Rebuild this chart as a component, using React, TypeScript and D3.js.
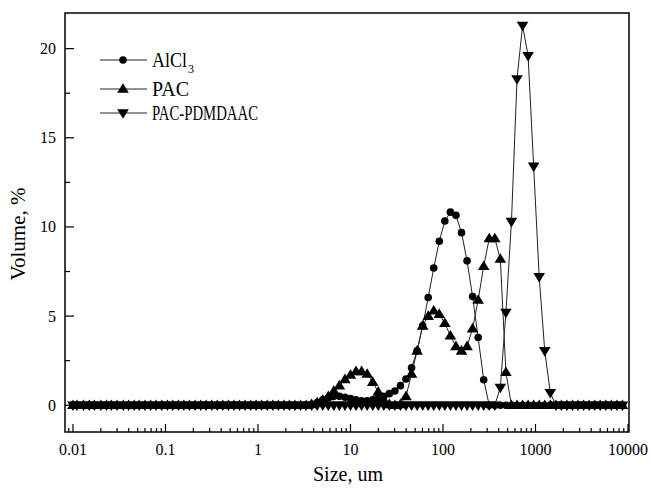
import React from "react";
import * as d3 from "d3";

// Particle size bins (um), as reported by the instrument
const SIZES = [
  0.010, 0.011, 0.013, 0.015, 0.017, 0.020, 0.023, 0.026, 0.030, 0.035,
  0.040, 0.046, 0.052, 0.060, 0.069, 0.079, 0.091, 0.105, 0.120, 0.138,
  0.158, 0.182, 0.209, 0.240, 0.275, 0.316, 0.363, 0.417, 0.479, 0.550,
  0.631, 0.724, 0.832, 0.955, 1.096, 1.259, 1.445, 1.660, 1.905, 2.188,
  2.512, 2.884, 3.311, 3.802, 4.365, 5.012, 5.754, 6.607, 7.586, 8.710,
  10.00, 11.48, 13.18, 15.14, 17.38, 19.95, 22.91, 26.30, 30.20, 34.67,
  39.81, 45.71, 52.48, 60.26, 69.18, 79.43, 91.20, 104.7, 120.2, 138.0,
  158.5, 182.0, 208.9, 239.9, 275.4, 316.2, 363.1, 416.9, 478.6, 549.5,
  631.0, 724.4, 831.8, 955.0, 1096, 1259, 1445, 1660, 1905, 2188,
  2512, 2884, 3311, 3802, 4365, 5012, 5754, 6607, 7586, 8710,
];

const ALCL3 = [
  0, 0, 0, 0, 0, 0, 0, 0, 0, 0,
  0, 0, 0, 0, 0, 0, 0, 0, 0, 0,
  0, 0, 0, 0, 0, 0, 0, 0, 0, 0,
  0, 0, 0, 0, 0, 0, 0, 0, 0, 0,
  0, 0, 0, 0.05, 0.15, 0.3, 0.42, 0.5, 0.5, 0.45,
  0.38, 0.3, 0.25, 0.25, 0.3, 0.4, 0.5, 0.65, 0.8, 1.1,
  1.47, 2.1, 3.05, 4.45, 6.04, 7.7, 9.2, 10.33, 10.83, 10.65,
  9.68, 8.1, 6.1, 3.8, 1.43, 0, 0, 0, 0, 0,
  0, 0, 0, 0, 0, 0, 0, 0, 0, 0,
  0, 0, 0, 0, 0, 0, 0, 0, 0, 0,
];

const PAC = [
  0, 0, 0, 0, 0, 0, 0, 0, 0, 0,
  0, 0, 0, 0, 0, 0, 0, 0, 0, 0,
  0, 0, 0, 0, 0, 0, 0, 0, 0, 0,
  0, 0, 0, 0, 0, 0, 0, 0, 0, 0,
  0, 0, 0, 0.05, 0.15, 0.3, 0.5, 0.8, 1.1, 1.45,
  1.7, 1.9, 1.9, 1.75, 1.3, 0.75, 0.3, 0.05, 0, 0.05,
  0.5, 1.75, 3.05, 4.45, 5.0, 5.3, 5.1, 4.6, 3.9, 3.3,
  3.05, 3.3, 4.3, 5.9, 7.8, 9.35, 9.35, 8.2, 1.85, 0,
  0, 0, 0, 0, 0, 0, 0, 0, 0, 0,
  0, 0, 0, 0, 0, 0, 0, 0, 0, 0,
];

const PAC_PDMDAAC = [
  0, 0, 0, 0, 0, 0, 0, 0, 0, 0,
  0, 0, 0, 0, 0, 0, 0, 0, 0, 0,
  0, 0, 0, 0, 0, 0, 0, 0, 0, 0,
  0, 0, 0, 0, 0, 0, 0, 0, 0, 0,
  0, 0, 0, 0, 0, 0, 0, 0, 0, 0,
  0, 0, 0, 0, 0, 0, 0, 0, 0, 0,
  0, 0, 0, 0, 0, 0, 0, 0, 0, 0,
  0, 0, 0, 0, 0, 0, 0, 1.0, 5.2, 10.3,
  18.3, 21.3, 19.6, 13.4, 7.2, 3.05, 0.7, 0, 0, 0,
  0, 0, 0, 0, 0, 0, 0, 0, 0, 0,
];

const X_MAJOR = [0.01, 0.1, 1, 10, 100, 1000, 10000];
const X_LABELS = ["0.01", "0.1", "1", "10", "100", "1000", "10000"];
const Y_MAJOR = [0, 5, 10, 15, 20];
const Y_MINOR = [2.5, 7.5, 12.5, 17.5];

const SERIES = [
  { name: "AlCl", sub: "3", values: ALCL3, marker: "circle" },
  { name: "PAC", sub: "", values: PAC, marker: "up" },
  { name: "PAC-PDMDAAC", sub: "", values: PAC_PDMDAAC, marker: "down" },
];

const W = 651, H = 489;
const L = 65, R = 629, T = 13, B = 432;
const FONT = "'Liberation Serif', 'Times New Roman', serif";

function Marker({ type, x, y }: { type: string; x: number; y: number }) {
  if (type === "circle") return <circle cx={x} cy={y} r={3.8} fill="#000" />;
  if (type === "up")
    return <path d={`M${x},${y - 5.8}L${x - 5.8},${y + 3.8}L${x + 5.8},${y + 3.8}Z`} fill="#000" />;
  return <path d={`M${x},${y + 5.8}L${x - 5.8},${y - 3.8}L${x + 5.8},${y - 3.8}Z`} fill="#000" />;
}

export default function App() {
  const x = d3.scaleLog().domain([0.0082, 10250]).range([L, R]);
  const y = d3.scaleLinear().domain([-1.5, 22]).range([B, T]);

  const minorX: number[] = [];
  for (let e = -3; e <= 4; e++) {
    for (let m = 2; m <= 9; m++) {
      const v = m * Math.pow(10, e);
      if (v > 0.0082 && v < 10250) minorX.push(v);
    }
  }

  const line = d3
    .line<number>()
    .x((_, i) => x(SIZES[i]))
    .y((d) => y(d));

  const legendY = [60, 89, 113];
  const legendLen = [35, 37, 106];

  return (
    <svg
      width={W}
      height={H}
      style={{ position: "absolute", left: 0, top: 0, background: "#fff" }}
      fontFamily={FONT}
    >
      <rect x={0} y={0} width={W} height={H} fill="#fff" />
      {/* series */}
      {SERIES.map((s) => (
        <g key={s.name}>
          <path d={line(s.values) || ""} fill="none" stroke="#222" strokeWidth={1} />
          {s.values.map((v, i) => (
            <Marker key={i} type={s.marker} x={x(SIZES[i])} y={y(v)} />
          ))}
        </g>
      ))}

      {/* frame */}
      <rect x={L} y={T} width={R - L} height={B - T} fill="none" stroke="#000" strokeWidth={1.5} />

      {/* x ticks */}
      {X_MAJOR.map((v, i) => (
        <g key={"xm" + v}>
          <line x1={x(v)} x2={x(v)} y1={B} y2={B - 8} stroke="#000" strokeWidth={1.2} />
          <text x={x(v)} y={455} textAnchor="middle" fontSize={16}>
            {X_LABELS[i]}
          </text>
        </g>
      ))}
      {minorX.map((v) => (
        <line key={"xn" + v} x1={x(v)} x2={x(v)} y1={B} y2={B - 4} stroke="#000" strokeWidth={1.2} />
      ))}

      {/* y ticks */}
      {Y_MAJOR.map((v) => (
        <g key={"ym" + v}>
          <line x1={L} x2={L + 9} y1={y(v)} y2={y(v)} stroke="#000" strokeWidth={1.2} />
          <text x={56} y={y(v) + 5.5} textAnchor="end" fontSize={16}>
            {v}
          </text>
        </g>
      ))}
      {Y_MINOR.map((v) => (
        <line key={"yn" + v} x1={L} x2={L + 5} y1={y(v)} y2={y(v)} stroke="#000" strokeWidth={1.2} />
      ))}

      {/* axis titles */}
      <text x={348} y={481} textAnchor="middle" fontSize={20} textLength={70} lengthAdjust="spacingAndGlyphs">
        Size, um
      </text>
      <text
        transform={`translate(25,234) rotate(-90)`}
        textAnchor="middle"
        fontSize={20}
        textLength={93}
        lengthAdjust="spacingAndGlyphs"
      >
        Volume, %
      </text>

      {/* legend */}
      {SERIES.map((s, i) => (
        <g key={"lg" + s.name}>
          <line x1={100} x2={147} y1={legendY[i]} y2={legendY[i]} stroke="#222" strokeWidth={1} />
          <Marker type={s.marker} x={123} y={legendY[i]} />
          <text x={152} y={legendY[i] + 7} fontSize={21}>
            <tspan textLength={legendLen[i]} lengthAdjust="spacingAndGlyphs">
              {s.name}
            </tspan>
            {s.sub && (
              <tspan dx={1} dy={6} fontSize={12}>
                {s.sub}
              </tspan>
            )}
          </text>
        </g>
      ))}
    </svg>
  );
}
